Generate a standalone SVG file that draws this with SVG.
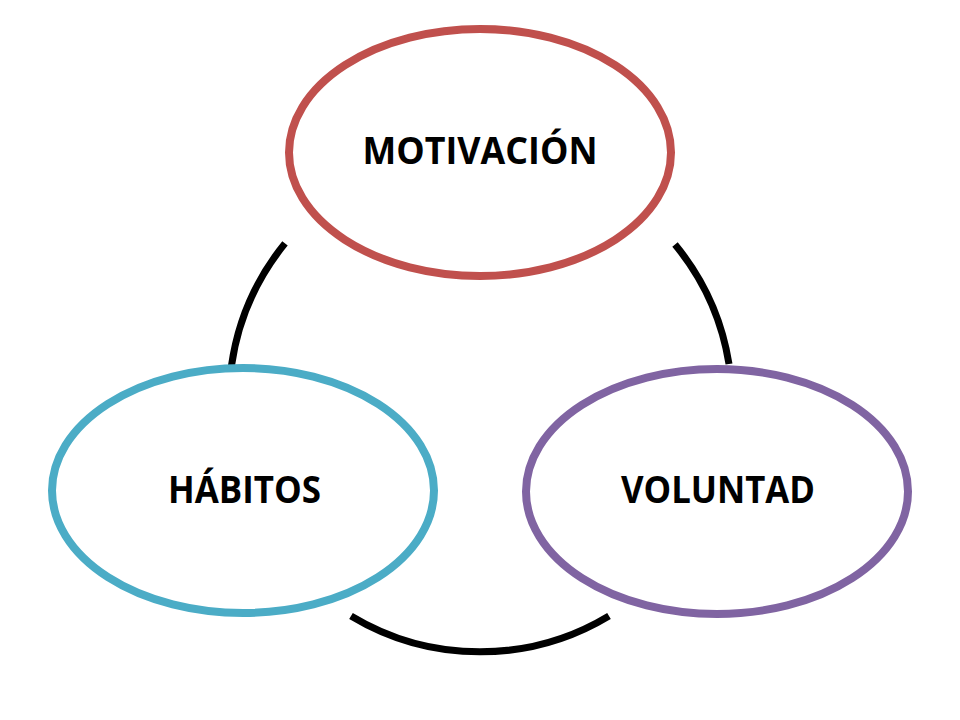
<svg xmlns="http://www.w3.org/2000/svg" width="960" height="720" viewBox="0 0 960 720">
<style>
.node{fill:#FFFFFF;stroke-width:8}
.lbl{font-family:"Open Sans","Liberation Sans",sans-serif;font-weight:bold;font-size:37px;fill:#000000;text-anchor:middle}
.arc{fill:none;stroke:#000000;stroke-width:7}
</style>
<rect width="960" height="720" fill="#FFFFFF"/>
<g id="connectors">
<path class="arc" d="M285,243.4 A250,250 0 0 0 231.5,365.5"/>
<path class="arc" d="M675,244.5 A250,250 0 0 1 729,364"/>
<path class="arc" d="M351,616 A250,250 0 0 0 609,616"/>
</g>
<g id="motivacion">
<ellipse class="node" cx="480" cy="152.5" rx="191" ry="123.5" stroke="#C0504D"/>
<text class="lbl" x="480" y="164" textLength="235" lengthAdjust="spacingAndGlyphs">MOTIVACIÓN</text>
</g>
<g id="habitos">
<ellipse class="node" cx="243" cy="490.5" rx="191" ry="122.5" stroke="#4BACC6"/>
<text class="lbl" x="244.5" y="503" textLength="153" lengthAdjust="spacingAndGlyphs">HÁBITOS</text>
</g>
<g id="voluntad">
<ellipse class="node" cx="717" cy="491.5" rx="191" ry="122.5" stroke="#8064A2"/>
<text class="lbl" x="718" y="503" textLength="194" lengthAdjust="spacingAndGlyphs">VOLUNTAD</text>
</g>
</svg>
